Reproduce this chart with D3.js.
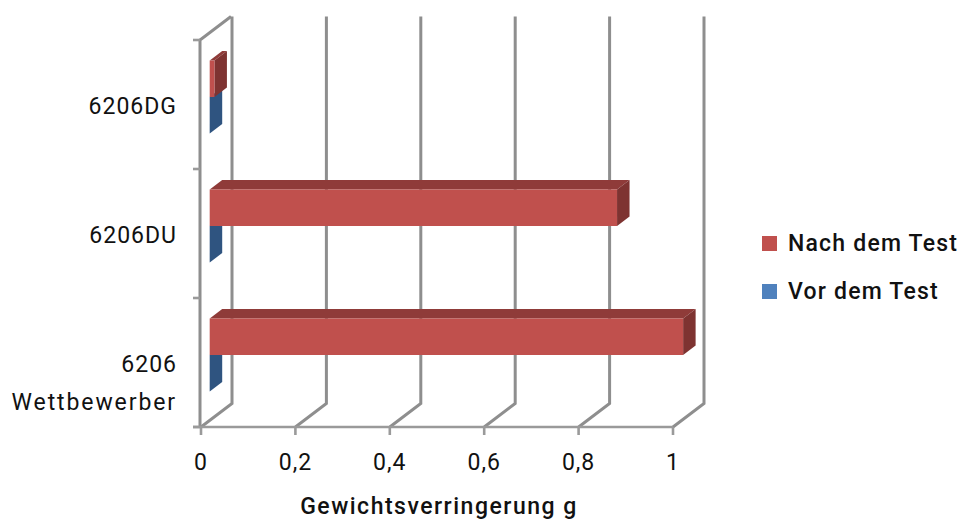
<!DOCTYPE html>
<html>
<head>
<meta charset="utf-8">
<script src="https://cdn.jsdelivr.net/npm/d3@7/dist/d3.min.js"></script>
<style>
html,body{margin:0;padding:0;background:#fff}
svg{display:block}
text{font-family:Roboto,"Open Sans",sans-serif;fill:#111;font-size:23px;letter-spacing:1.2px;font-weight:500}
text.num{letter-spacing:1px;font-weight:400}
text.word{letter-spacing:1.9px;font-weight:400}
text.title{letter-spacing:1.5px}
</style>
</head>
<body>
<svg id="chart" width="962" height="521"></svg>
<script>
const categories = ["6206DG", "6206DU", "6206 Wettbewerber"];
const nachDemTest = [0.01, 0.863, 1.003];
const vorDemTest = [0, 0, 0];
const xTicks = [0, 0.2, 0.4, 0.6, 0.8, 1];
const xTickLabels = ["0", "0,2", "0,4", "0,6", "0,8", "1"];
const seriesNames = ["Nach dem Test", "Vor dem Test"];
const xTitle = "Gewichtsverringerung g";

const svg = d3.select("#chart");
const x = d3.scaleLinear().domain([0, 1]).range([201, 673]);
const y = d3.scaleBand().domain(categories).range([40, 427]);

// Oblique projection: depth offsets of the back wall and of the bar solids
const wall = {dx: 31, dy: -23.5};
const barFront = {dx: 8.7, dy: -7};
const barDepth = {dx: 12.5, dy: -9.5};
const barHeight = 36.5;
const grey = "#8e8e8e";

const poly = (g, pts, fill) => g.append("polygon")
  .attr("points", pts.map(p => p.join(",")).join(" ")).attr("fill", fill);

// Walls and gridlines
const grid = svg.append("g").attr("fill", "none").attr("stroke", grey).attr("stroke-width", 3);
const plotTop = y.range()[0], plotBottom = y.range()[1];
xTicks.forEach(t => {
  const px = x(t);
  grid.append("polyline").attr("points", [
    [px, plotBottom],
    [px + wall.dx, plotBottom + wall.dy],
    [px + wall.dx, plotTop + wall.dy]
  ].map(p => p.join(",")).join(" "));
});
grid.append("polyline").attr("points", [
  [x(0) - 1, plotBottom], [x(0) - 1, plotTop], [x(0) + wall.dx - 1, plotTop + wall.dy]
].map(p => p.join(",")).join(" "));

// Axis lines and tick marks
const axisLayer = svg.append("g").attr("stroke", "#9a9a9a").attr("stroke-width", 2.6);
axisLayer.append("line").attr("x1", x(0) - 8).attr("x2", x(1)).attr("y1", plotBottom).attr("y2", plotBottom);
xTicks.forEach(t => axisLayer.append("line")
  .attr("x1", x(t)).attr("x2", x(t)).attr("y1", plotBottom).attr("y2", plotBottom + 8));
[...categories.map(c => y(c)), plotBottom].forEach(v => axisLayer.append("line")
  .attr("x1", x(0) - 8).attr("x2", x(0) - 1).attr("y1", v).attr("y2", v));

// One 3D bar: side and top faces in the shaded tones, front in the series colour
function bar(g, value, yTop, colors) {
  const x0 = x(0) + barFront.dx;
  const x1 = x(value) + barFront.dx;
  const y0 = yTop, y1 = yTop + barHeight;
  const d = barDepth;
  poly(g, [[x0, y0], [x1, y0], [x1 + d.dx, y0 + d.dy], [x0 + d.dx, y0 + d.dy]], colors.top);
  poly(g, [[x1, y0], [x1 + d.dx, y0 + d.dy], [x1 + d.dx, y1 + d.dy], [x1, y1]], colors.side);
  if (value > 0) poly(g, [[x0, y0], [x1, y0], [x1, y1], [x0, y1]], colors.front);
}
const redTones = {front: "#c0504d", top: "#8f3b39", side: "#7e3331"};
const blueTones = {front: "#4f81bd", top: "#3b6090", side: "#2f5480"};

const bars = svg.append("g");
categories.forEach((c, i) => {
  const mid = y(c) + y.bandwidth() / 2 + barFront.dy - 0.5;
  bar(bars, vorDemTest[i], mid, blueTones);
  bar(bars, nachDemTest[i], mid - barHeight, redTones);
});

// Category labels, split over lines at spaces
categories.forEach(c => {
  const lines = c.split(" ");
  const cy = y(c) + y.bandwidth() / 2;
  lines.forEach((line, j) => {
    const base = lines.length === 1 ? cy + 9.5 : cy + 9 + j * 38;
    svg.append("text").attr("class", /^\d/.test(line) ? "num" : "word")
      .attr("x", 177).attr("y", base)
      .attr("text-anchor", "end").text(line);
  });
});

// Value tick labels and axis title
xTicks.forEach((t, i) => svg.append("text").attr("class", "num")
  .attr("x", x(t)).attr("y", 470).attr("text-anchor", "middle").text(xTickLabels[i]));
svg.append("text").attr("class", "title").attr("x", 439).attr("y", 514)
  .attr("text-anchor", "middle").text(xTitle);

// Legend
const legendColors = ["#c0504d", "#4f81bd"];
const legendY = [236, 284];
seriesNames.forEach((name, i) => {
  svg.append("rect").attr("x", 762).attr("y", legendY[i]).attr("width", 15).attr("height", 15)
    .attr("fill", legendColors[i]);
  svg.append("text").attr("x", 788).attr("y", legendY[i] + 15).text(name);
});
</script>
</body>
</html>
